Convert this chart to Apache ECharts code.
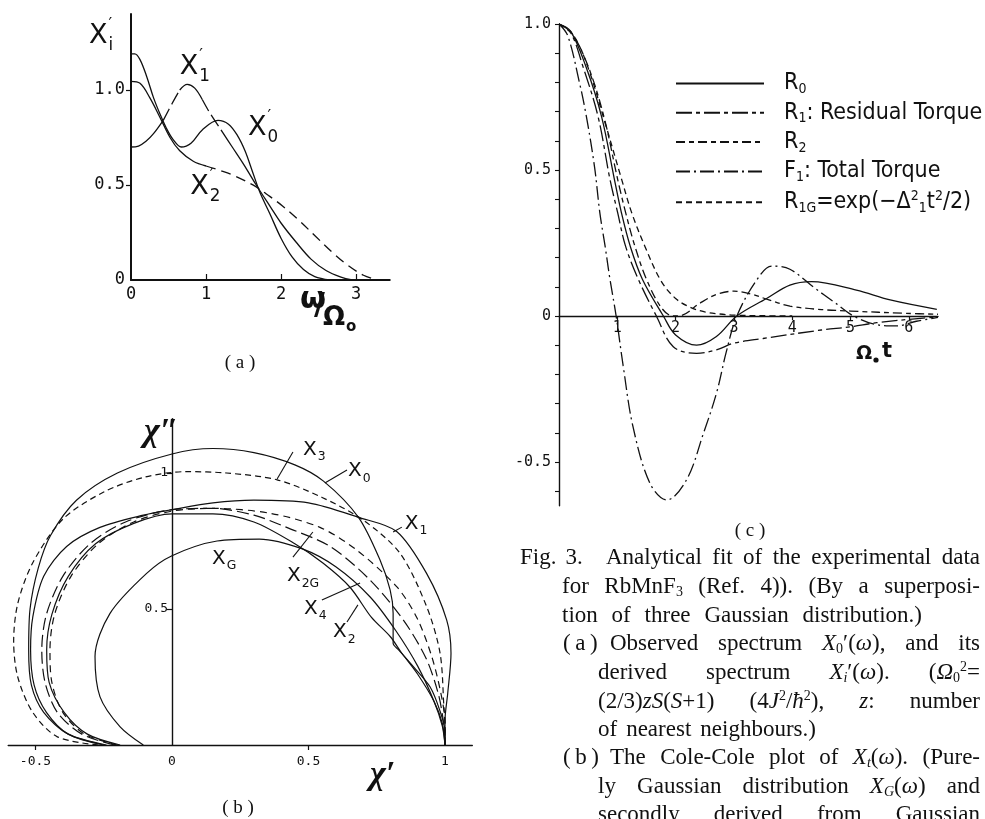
<!DOCTYPE html>
<html>
<head>
<meta charset="utf-8">
<script src="https://cdn.jsdelivr.net/npm/echarts@6/dist/echarts.min.js"></script>
<style>
  html, body { margin: 0; padding: 0; background: #fff; }
  #c { width: 985px; height: 819px; }
</style>
</head>
<body>
<div id="c"></div>
<script>
// ---------- (a) spectra X_i'(omega), x = omega / Omega_0 ----------
const specX0 = [[0,1.19],[0.05,1.19],[0.12,1.16],[0.21,1.07],[0.30,0.96],[0.385,0.875],[0.47,0.80],[0.56,0.74],[0.67,0.70],[0.8,0.72],[0.95,0.79],[1.16,0.84],[1.3,0.82],[1.42,0.76],[1.52,0.68],[1.62,0.57],[1.72,0.46],[1.85,0.35],[2.0,0.22],[2.15,0.12],[2.3,0.055],[2.45,0.018],[2.65,0]];
const specX1 = [[0,0.70],[0.1,0.705],[0.2,0.73],[0.3,0.77],[0.43,0.84],[0.55,0.93],[0.65,1.0],[0.75,1.03],[0.85,1.01],[0.95,0.95],[1.05,0.88],[1.2,0.79],[1.35,0.70],[1.5,0.61],[1.67,0.50],[1.85,0.39],[2.0,0.30],[2.2,0.20],[2.4,0.11],[2.6,0.05],[2.8,0.015],[2.95,0]];
const specX2 = [[0,1.045],[0.12,1.035],[0.25,0.96],[0.385,0.857],[0.52,0.75],[0.65,0.68],[0.83,0.625],[1.0,0.60],[1.2,0.575],[1.4,0.545],[1.67,0.49],[1.85,0.44],[2.02,0.39],[2.25,0.31],[2.46,0.23],[2.7,0.14],[2.9,0.075],[3.1,0.025],[3.28,0]];

// ---------- (b) Cole-Cole plot, points [chi', chi''] ----------
const ccX0 = [[-0.24,0],[-0.38,0.04],[-0.47,0.12],[-0.515,0.22],[-0.525,0.35],[-0.52,0.50],[-0.49,0.65],[-0.445,0.77],[-0.35,0.90],[-0.2,1.0],[0,1.07],[0.15,1.09],[0.3,1.075],[0.45,1.03],[0.555,0.97],[0.683,0.837],[0.762,0.68],[0.799,0.57],[0.81,0.484],[0.81,0.374],[0.83,0.35],[0.884,0.288],[0.945,0.214],[0.98,0.13],[1,0.05],[1,0]];
const ccX1 = [[-0.25,0],[-0.38,0.04],[-0.46,0.12],[-0.505,0.22],[-0.518,0.35],[-0.51,0.47],[-0.47,0.62],[-0.386,0.73],[-0.264,0.80],[-0.105,0.845],[0,0.865],[0.15,0.89],[0.3,0.90],[0.5,0.89],[0.683,0.837],[0.823,0.785],[0.933,0.63],[1.006,0.46],[1.022,0.337],[1.01,0.19],[1,0.09],[1,0]];
const ccX3 = [[-0.27,0],[-0.42,0.03],[-0.51,0.12],[-0.565,0.25],[-0.58,0.38],[-0.565,0.52],[-0.51,0.67],[-0.40,0.83],[-0.25,0.93],[-0.1,0.985],[0.05,1.005],[0.2,1.0],[0.385,0.975],[0.55,0.91],[0.70,0.827],[0.835,0.705],[0.933,0.508],[0.982,0.337],[0.996,0.14],[1,0.07],[1,0]];
const ccX4 = [[-0.21,0],[-0.33,0.04],[-0.42,0.12],[-0.465,0.23],[-0.477,0.35],[-0.46,0.48],[-0.40,0.62],[-0.30,0.74],[-0.17,0.82],[0,0.865],[0.15,0.87],[0.30,0.845],[0.42,0.80],[0.579,0.73],[0.725,0.607],[0.847,0.46],[0.93,0.32],[0.975,0.19],[0.995,0.08],[1,0]];
const ccX2G = [[-0.2,0],[-0.32,0.04],[-0.40,0.12],[-0.44,0.23],[-0.447,0.35],[-0.43,0.48],[-0.37,0.62],[-0.27,0.74],[-0.14,0.82],[0,0.86],[0.15,0.87],[0.359,0.852],[0.542,0.80],[0.676,0.717],[0.823,0.582],[0.896,0.47],[0.95,0.33],[0.985,0.19],[1,0.08],[1,0]];
const ccX2 = [[-0.19,0],[-0.31,0.04],[-0.395,0.12],[-0.45,0.23],[-0.459,0.35],[-0.44,0.48],[-0.38,0.62],[-0.28,0.74],[-0.14,0.815],[0,0.85],[0.15,0.85],[0.3,0.82],[0.45,0.74],[0.554,0.668],[0.652,0.58],[0.73,0.47],[0.80,0.398],[0.84,0.34],[0.90,0.26],[0.96,0.16],[0.99,0.08],[1,0]];
const ccXG = [[-0.105,0],[-0.19,0.067],[-0.264,0.178],[-0.282,0.325],[-0.227,0.484],[-0.093,0.631],[0,0.696],[0.165,0.75],[0.32,0.757],[0.48,0.72],[0.60,0.655],[0.725,0.545],[0.82,0.42],[0.90,0.29],[0.96,0.16],[0.99,0.07],[1,0]];

// ---------- (c) relaxation functions vs Omega_0 t ----------
const relR0 = [[0,1],[0.2,0.975],[0.46,0.855],[0.73,0.683],[0.95,0.468],[1.07,0.354],[1.22,0.24],[1.43,0.126],[1.79,0],[2.0,-0.065],[2.36,-0.10],[2.7,-0.07],[3.05,0],[3.56,0.06],[3.96,0.106],[4.33,0.118],[5.1,0.089],[5.68,0.055],[6.48,0.023]];
const relR1 = [[0,1],[0.2,0.97],[0.41,0.855],[0.67,0.683],[0.874,0.468],[1.006,0.354],[1.14,0.24],[1.36,0.126],[1.67,0],[1.96,-0.105],[2.36,-0.128],[2.7,-0.116],[3.0,-0.093],[3.5,-0.077],[4.5,-0.048],[5.0,-0.037],[5.45,-0.023],[6.25,-0.007],[6.5,-0.005]];
const relR2 = [[0,1],[0.2,0.975],[0.5,0.855],[0.77,0.683],[1.006,0.468],[1.143,0.354],[1.30,0.24],[1.50,0.126],[1.75,0.03],[1.95,0],[2.1,0.002],[2.41,0.043],[2.7,0.074],[3.0,0.085],[3.3,0.075],[3.6,0.055],[3.96,0.034],[4.5,0.022],[5.0,0.017],[5.96,0.009],[6.5,0.006]];
const relF1 = [[0,1],[0.15,0.96],[0.35,0.80],[0.47,0.683],[0.61,0.51],[0.70,0.354],[0.79,0.24],[0.874,0.126],[0.98,0],[1.1,-0.17],[1.27,-0.38],[1.56,-0.573],[1.85,-0.63],[2.19,-0.56],[2.48,-0.40],[2.7,-0.265],[2.87,-0.122],[3.05,0],[3.39,0.123],[3.65,0.171],[3.96,0.16],[4.39,0.095],[4.71,0.049],[5.05,0],[5.45,-0.03],[5.79,-0.034],[6.13,-0.018],[6.5,-0.005]];
const relR1G = [[0,1],[0.25,0.96],[0.5,0.85],[0.8,0.655],[1.074,0.468],[1.246,0.354],[1.47,0.24],[1.75,0.12],[2.0,0.06],[2.25,0.03],[2.5,0.014],[2.75,0.007],[3.0,0.003],[3.5,0.001],[4.0,0]];

// tick values
const aXTicks = [0, 1, 2, 3];
const aYTicks = [0, 0.5, 1.0];
const bXTicks = [-0.5, 0, 0.5, 1];
const bYTicks = [0.5, 1];
const cXTicks = [1, 2, 3, 4, 5, 6];
const cYTicks = [-0.5, 0, 0.5, 1.0];
const cYMinor = [-0.6,-0.5,-0.4,-0.3,-0.2,-0.1,0,0.1,0.2,0.3,0.4,0.5,0.6,0.7,0.8,0.9,1.0];

const ink = '#111';
const fSans = "'DejaVu Sans', sans-serif";
const fNarrow = "'DejaVu Sans Condensed','Liberation Sans Narrow','DejaVu Sans',sans-serif";
const fMono = "'DejaVu Sans Mono','Liberation Mono',monospace";
const fSerif = "'Liberation Serif','DejaVu Serif',serif";

const chart = echarts.init(document.getElementById('c'), null, { renderer: 'canvas' });

// pieces of a curve between two abscissae (used for mixed solid/dashed strokes)
function piece(data, x0, x1) { return data.filter(p => p[0] >= x0 - 1e-9 && p[0] <= x1 + 1e-9); }

function line(name, data, grid, type, width, smooth) {
  return {
    name: name, type: 'line', data: data, xAxisIndex: grid, yAxisIndex: grid,
    symbol: 'none', smooth: smooth === undefined ? 0.35 : smooth, silent: true, animation: false,
    lineStyle: { color: ink, width: width || 1.3, type: type || 'solid', cap: 'butt' },
    itemStyle: { color: ink }
  };
}

const dashLong = [13, 5];

function axisBase(extra) {
  return Object.assign({
    type: 'value', splitLine: { show: false },
    axisLine: { show: true, onZero: false, lineStyle: { color: ink, width: 1.4 } },
    axisTick: { show: true, lineStyle: { color: ink, width: 1.2 } },
    axisLabel: { color: ink, fontFamily: fMono, fontSize: 14 }
  }, extra);
}

const series = [
  // (a)
  line('X0a', specX0, 0),
  line('X1a-1', piece(specX1, 0, 0.43), 0),
  line('X1a-2', piece(specX1, 0.43, 0.65), 0, dashLong),
  line('X1a-3', piece(specX1, 0.65, 0.95), 0),
  line('X1a-4', piece(specX1, 0.95, 1.2), 0, dashLong),
  line('X1a-5', piece(specX1, 1.2, 3), 0),
  line('X2a-1', piece(specX2, 0, 1.0), 0),
  line('X2a-2', piece(specX2, 1.0, 3.3), 0, [10, 6]),
  // (b)
  line('X0', ccX0, 1, 'solid', 1.2, 0.3),
  line('X1', ccX1, 1, 'solid', 1.2, 0.3),
  line('X3', ccX3, 1, [6, 4], 1.2, 0.3),
  line('X4', ccX4, 1, [12, 5], 1.2, 0.3),
  line('X2G', ccX2G, 1, [7, 5], 1.2, 0.3),
  line('X2', ccX2, 1, 'solid', 1.2, 0.3),
  line('XG', ccXG, 1, 'solid', 1.2, 0.3),
  // (c)
  line('R0', relR0, 2, 'solid', 1.3),
  line('R1', relR1, 2, [16, 4, 4, 4], 1.3),
  line('R2', relR2, 2, [9, 4, 5, 4], 1.3),
  line('F1', relF1, 2, [14, 4, 2, 4], 1.3),
  line('R1G', relR1G, 2, [6, 4], 1.3)
];

const legendText = {
  R0: 'R{s|0}',
  R1: 'R{s|1}: Residual Torque',
  R2: 'R{s|2}',
  F1: 'F{s|1}: Total Torque',
  R1G: 'R{s|1G}=exp(−Δ{p|2}{s|1}t{p|2}/2)'
};

const gridA = { left: 131, top: 14, width: 258.75, height: 266, outerBoundsMode: 'none' };
const gridB = { left: 8.2, top: 418.6, width: 464.1, height: 326.4, outerBoundsMode: 'none' };
const gridC = { left: 559, top: 24, width: 379, height: 481.8, outerBoundsMode: 'none' };

chart.setOption({
  backgroundColor: '#fff',
  animation: false,
  grid: [gridA, gridB, gridC],
  xAxis: [
    axisBase({ gridIndex: 0, min: 0, max: 3.45,
      axisLine: { show: true, onZero: false, lineStyle: { color: ink, width: 2 } },
      axisTick: { inside: true, length: 6, customValues: [1, 2, 3], lineStyle: { color: ink, width: 1.2 } },
      axisLabel: { customValues: aXTicks, color: ink, fontFamily: fMono, fontSize: 17, margin: 6 } }),
    axisBase({ gridIndex: 1, min: -0.6, max: 1.1,
      axisTick: { length: 5, customValues: [-0.5, 0.5], lineStyle: { color: ink, width: 1.2 } },
      axisLabel: { customValues: bXTicks, color: ink, fontFamily: fMono, fontSize: 13, margin: 10,
        formatter: v => String(v) } }),
    axisBase({ gridIndex: 2, min: 0, max: 6.5,
      axisTick: { length: 4, customValues: cXTicks, lineStyle: { color: ink, width: 1.2 } },
      axisLabel: { customValues: cXTicks, color: ink, fontFamily: fMono, fontSize: 15, margin: 5 } })
  ],
  yAxis: [
    axisBase({ gridIndex: 0, min: 0, max: 1.4,
      axisLine: { show: true, onZero: false, lineStyle: { color: ink, width: 2 } },
      axisTick: { length: 5, customValues: [0.5, 1], lineStyle: { color: ink, width: 1.2 } },
      axisLabel: { customValues: aYTicks, color: ink, fontFamily: fMono, fontSize: 17, margin: 6,
        formatter: v => v === 0 ? '0' : v.toFixed(1) } }),
    axisBase({ gridIndex: 1, min: 0, max: 1.2,
      axisTick: { length: 5, customValues: bYTicks, lineStyle: { color: ink, width: 1.2 } },
      axisLabel: { customValues: bYTicks, color: ink, fontFamily: fMono, fontSize: 13, margin: 4,
        formatter: v => String(v) } }),
    axisBase({ gridIndex: 2, min: -0.65, max: 1,
      axisTick: { length: 4, customValues: cYMinor, lineStyle: { color: ink, width: 1.1 } },
      axisLabel: { customValues: cYTicks, color: ink, fontFamily: fMono, fontSize: 15, margin: 8,
        formatter: v => v === 0 ? '0' : (v === 1 ? '1.0' : String(v)) } })
  ],
  legend: {
    data: ['R0', 'R1', 'R2', 'F1', 'R1G'],
    orient: 'vertical', left: 670, top: 67, itemWidth: 88, itemHeight: 18, itemGap: 4.8,
    selectedMode: false,
    itemStyle: { opacity: 0 },
    formatter: n => legendText[n],
    textStyle: {
      color: ink, fontFamily: fNarrow, fontSize: 23, padding: [0, 0, 0, 15],
      rich: {
        s: { fontFamily: fNarrow, fontSize: 14, color: ink, padding: [12, 0, 0, 0] },
        p: { fontFamily: fNarrow, fontSize: 14, color: ink, padding: [0, 0, 12, 0] }
      }
    }
  },
  series: series
});

// the Cole-Cole axes cross at the origin, and the time axis of (c) sits on R = 0
const originB = chart.convertToPixel({ gridIndex: 1 }, [0, 0]);
const originC = chart.convertToPixel({ gridIndex: 2 }, [0, 0]);
chart.setOption({
  xAxis: [{}, {}, { offset: originC[1] - (gridC.top + gridC.height) }],
  yAxis: [{}, { offset: gridB.left - originB[0] }, {}]
});

// ---------- annotations ----------
const meas = document.createElement('canvas').getContext('2d');
function textW(str, size, family, weight) {
  meas.font = (weight || 'normal') + ' ' + size + 'px ' + family;
  return meas.measureText(str).width;
}
// a glyph with an optional superscript and subscript, anchored at its left-middle
function symbol(px, py, base, sup, sub, size, family, weight) {
  const w = textW(base, size, family, weight);
  const kids = [{ type: 'text', x: 0, y: 0, style: { text: base, fontSize: size, fontFamily: family, fontWeight: weight || 'normal', fill: ink, verticalAlign: 'middle' } }];
  if (sup) kids.push({ type: 'text', x: w + 1, y: -size * 0.42, style: { text: sup, fontSize: size * 0.6, fontFamily: family, fill: ink, verticalAlign: 'middle' } });
  if (sub) kids.push({ type: 'text', x: w + 1, y: size * 0.36, style: { text: sub, fontSize: size * 0.62, fontFamily: family, fontWeight: weight || 'normal', fill: ink, verticalAlign: 'middle' } });
  return { type: 'group', x: px, y: py, silent: true, children: kids };
}
function at(grid, x, y) { return chart.convertToPixel({ gridIndex: grid }, [x, y]); }

const labelsA = [
  // [x, y in data space, base, sup, sub]
  [0.65, 1.12, 'X', '′', '1'],
  [1.56, 0.80, 'X', '′', '0'],
  [0.79, 0.49, 'X', '′', '2']
];
const labelsB = [
  [0.480, 1.085, 'X', '', '3'],
  [0.645, 1.007, 'X', '', '0'],
  [0.853, 0.8125, 'X', '', '1'],
  [0.1465, 0.684, 'X', '', 'G'],
  [0.421, 0.621, 'X', '', '2G'],
  [0.4835, 0.50, 'X', '', '4'],
  [0.590, 0.415, 'X', '', '2']
];
const leadersB = [
  [[0.443, 1.077], [0.385, 0.978]],
  [[0.641, 1.011], [0.560, 0.963]],
  [[0.842, 0.801], [0.81, 0.783]],
  [[0.443, 0.691], [0.516, 0.783]],
  [[0.549, 0.533], [0.689, 0.596]],
  [[0.641, 0.452], [0.681, 0.515]]
];

const g = [];
labelsA.forEach(l => { const p = at(0, l[0], l[1]); g.push(symbol(p[0], p[1], l[2], l[3], l[4], 27, fSans)); });
labelsB.forEach(l => { const p = at(1, l[0], l[1]); g.push(symbol(p[0], p[1], l[2], l[3], l[4], 20, fSans)); });
leadersB.forEach(s => {
  const p = at(1, s[0][0], s[0][1]), q = at(1, s[1][0], s[1][1]);
  g.push({ type: 'line', silent: true, shape: { x1: p[0], y1: p[1], x2: q[0], y2: q[1] }, style: { stroke: ink, lineWidth: 1.1 } });
});

// axis titles
g.push(symbol(89, 36, 'X', '′', 'i', 27, fSans));
g.push({ type: 'text', x: 300, y: 300, silent: true, style: { text: 'ω', fontSize: 30, fontWeight: 'bold', fontFamily: fSans, fill: ink, verticalAlign: 'middle' } });
g.push({ type: 'text', x: 314, y: 306, silent: true, style: { text: '/', fontSize: 30, fontWeight: 'bold', fontFamily: fSans, fill: ink, verticalAlign: 'middle' } });
g.push({ type: 'text', x: 323, y: 318, silent: true, style: { text: 'Ω', fontSize: 26, fontWeight: 'bold', fontFamily: fSans, fill: ink, verticalAlign: 'middle' } });
g.push({ type: 'text', x: 346, y: 327, silent: true, style: { text: 'o', fontSize: 15, fontWeight: 'bold', fontFamily: fSans, fill: ink, verticalAlign: 'middle' } });
g.push({ type: 'text', x: 144, y: 432, silent: true, style: { text: 'χ″', fontSize: 34, fontStyle: 'italic', fontWeight: 'bold', fontFamily: fSerif, fill: ink, verticalAlign: 'middle' } });
g.push({ type: 'text', x: 370, y: 775, silent: true, style: { text: 'χ′', fontSize: 34, fontStyle: 'italic', fontWeight: 'bold', fontFamily: fSerif, fill: ink, verticalAlign: 'middle' } });
g.push({ type: 'text', x: 856, y: 354, silent: true, style: { text: 'Ω', fontSize: 19, fontWeight: 'bold', fontFamily: fSans, fill: ink, verticalAlign: 'middle' } });
g.push({ type: 'circle', silent: true, shape: { cx: 876, cy: 360, r: 2.6 }, style: { fill: ink } });
g.push({ type: 'text', x: 882, y: 352, silent: true, style: { text: 't', fontSize: 21, fontWeight: 'bold', fontFamily: fSans, fill: ink, verticalAlign: 'middle' } });

// panel tags
[['( a )', 240, 363], ['( b )', 238, 808], ['( c )', 750, 531]].forEach(t => {
  g.push({ type: 'text', x: t[1], y: t[2], silent: true, style: { text: t[0], fontSize: 19, fontFamily: fSerif, fill: ink, align: 'center', verticalAlign: 'middle' } });
});

// caption, set word by word so that full lines are justified
const capSize = 23;
const capSmall = 14;
const capRich = {
  i: { fontStyle: 'italic', fontFamily: fSerif, fontSize: capSize, fill: ink },
  sub: { fontFamily: fSerif, fontSize: capSmall, fill: ink, padding: [11, 0, 0, 0] },
  isub: { fontStyle: 'italic', fontFamily: fSerif, fontSize: capSmall, fill: ink, padding: [11, 0, 0, 0] },
  sup: { fontFamily: fSerif, fontSize: capSmall, fill: ink, padding: [0, 0, 11, 0] }
};
const capFonts = {
  '': capSize + 'px ' + fSerif,
  i: 'italic ' + capSize + 'px ' + fSerif,
  sub: capSmall + 'px ' + fSerif, isub: 'italic ' + capSmall + 'px ' + fSerif, sup: capSmall + 'px ' + fSerif
};
function richWidth(s) {
  const re = /\{(\w+)\|([^}]*)\}/g;
  let w = 0, last = 0, m;
  while ((m = re.exec(s))) {
    if (m.index > last) { meas.font = capFonts['']; w += meas.measureText(s.slice(last, m.index)).width; }
    meas.font = capFonts[m[1]]; w += meas.measureText(m[2]).width;
    last = re.lastIndex;
  }
  if (last < s.length) { meas.font = capFonts['']; w += meas.measureText(s.slice(last)).width; }
  return w;
}
const caption = [
  // [left, right (null: ragged), middle y, text]
  [520, null, 558, 'Fig. 3.'],
  [606, 980, 558, 'Analytical fit of the experimental data'],
  [562, 980, 587, 'for RbMnF{sub|3} (Ref. 4)). (By a superposi-'],
  [562, 922, 616, 'tion of three Gaussian distribution.)'],
  [563, null, 644, '(\u2009a\u2009)'],
  [610, 980, 644, 'Observed spectrum {i|X}{sub|0}′({i|ω}), and its'],
  [598, 980, 673, 'derived spectrum {i|X}{isub|i}′({i|ω}). ({i|Ω}{sub|0}{sup|2}='],
  [598, 980, 702, '(2/3){i|zS}({i|S}+1) (4{i|J}{sup|2}/{i|ħ}{sup|2}), {i|z}: number'],
  [598, null, 730, 'of nearest neighbours.)'],
  [563, null, 758, '(\u2009b\u2009)'],
  [610, 980, 758, 'The Cole-Cole plot of {i|X}{isub|t}({i|ω}). (Pure-'],
  [598, 980, 787, 'ly Gaussian distribution {i|X}{isub|G}({i|ω}) and'],
  [598, 980, 815, 'secondly derived from Gaussian']
];
function capText(x, y, s) {
  g.push({ type: 'text', x: x, y: y, silent: true, style: { text: s, fontSize: capSize, fontFamily: fSerif, fill: ink, verticalAlign: 'middle', rich: capRich } });
}
caption.forEach(c => {
  const words = c[3].split(' ');
  const ws = words.map(richWidth);
  const total = ws.reduce((a, b) => a + b, 0);
  const gap = c[1] === null ? 9 : (words.length > 1 ? (c[1] - c[0] - total) / (words.length - 1) : 0);
  let x = c[0];
  words.forEach((w, k) => { capText(x, c[2], w); x += ws[k] + gap; });
});

chart.setOption({ graphic: { elements: g } });
</script>
</body>
</html>
